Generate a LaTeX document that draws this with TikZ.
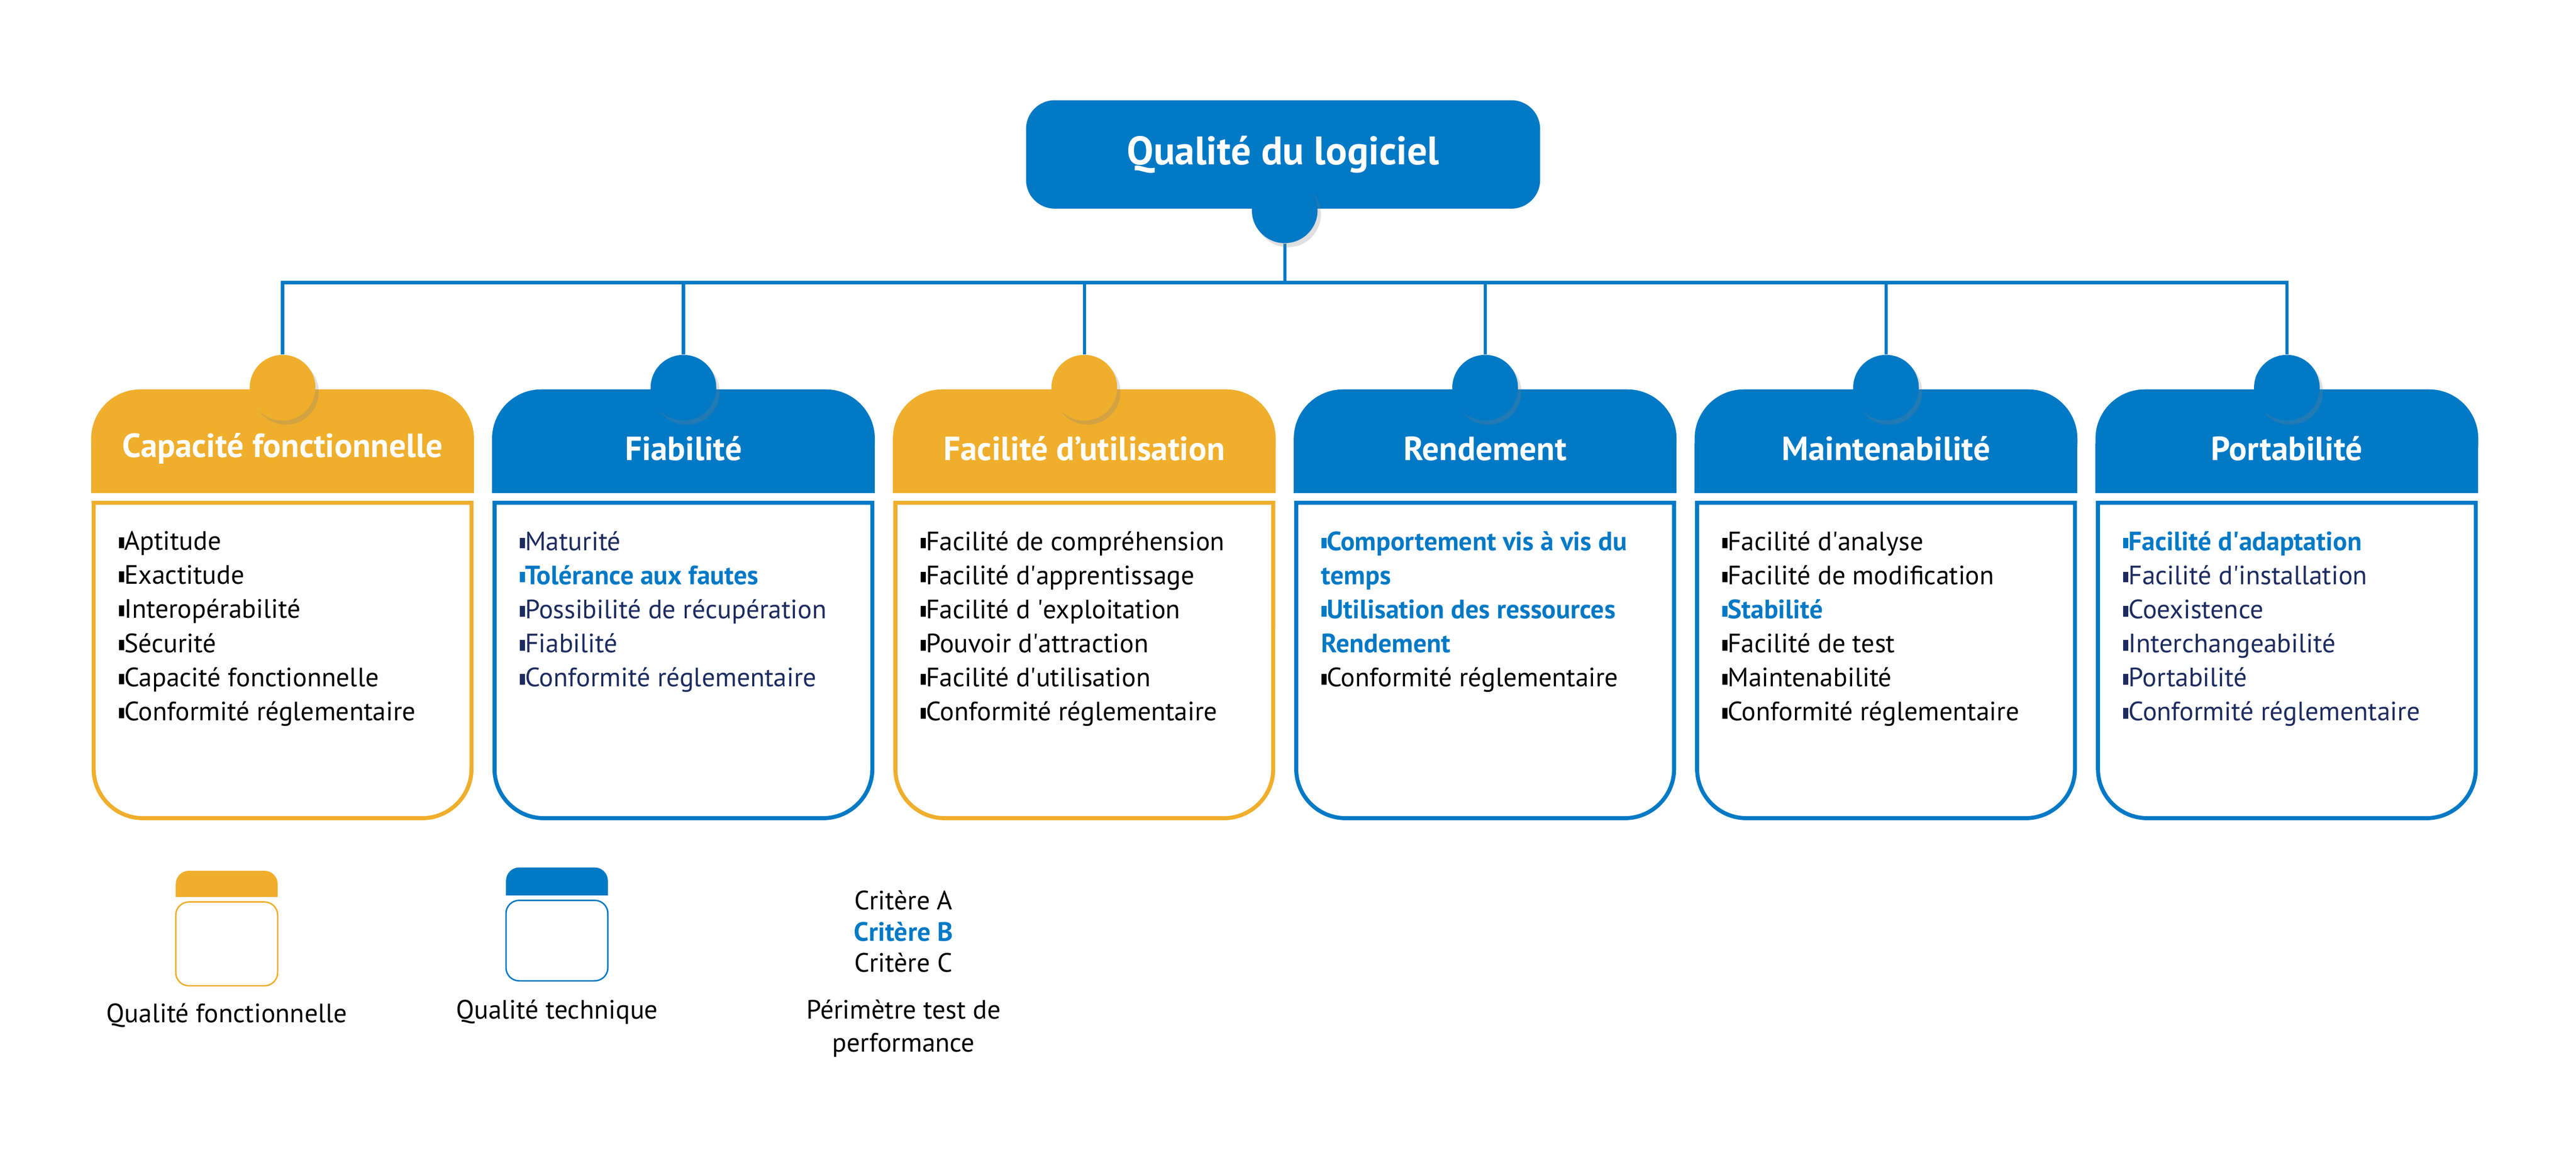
\documentclass[tikz,border=0pt]{standalone}
\usepackage{fontspec}
\setmainfont{PT Sans}
\usepackage{xcolor}
\usetikzlibrary{backgrounds,shadows}
\definecolor{qblue}{HTML}{0279C5}
\definecolor{qorange}{HTML}{EFAE2C}
\definecolor{qnavy}{HTML}{1D2B5E}
\newcommand\sq{\rule[0.15ex]{0.2em}{0.4em}}
\newcommand\ap{\textquotesingle}
\newcommand\hi[1]{{\bfseries\color{qblue}\sq#1}}
% one column: center x, colour, title, name, items
\newcommand\qcol[5]{%
  \node[dot, fill=#2] (dot#4) at (#1,474) {};
  \begin{scope}[on background layer]
    \fill[#2, rounded corners=0.6cm] (#1-116.5,410) rectangle (#1+116.5,473);
    \fill[#2] (#1-116.5,410) rectangle (#1+116.5,440);
  \end{scope}
  \node[headtext] (hd#4) at (#1,437) {#3};
  \draw[#2, line width=1.4pt] (#1-115,404) -- (#1-115,242)
    arc[start angle=180, end angle=270, radius=0.6cm] -- (#1+85,212)
    arc[start angle=270, end angle=360, radius=0.6cm] -- (#1+115,404) -- cycle;
  \node[items, anchor=north west] (it#4) at (#1-100,387) {#5};
}
\begin{document}
\begin{tikzpicture}[x=0.02cm, y=0.02cm,
  dot/.style={circle, minimum size=0.8cm, inner sep=0, drop shadow={opacity=0.25, shadow xshift=0.04cm, shadow yshift=-0.05cm}},
  headtext/.style={text=white, font=\bfseries\fontsize{11.6}{13}\selectfont},
  items/.style={align=left, inner sep=0, font=\fontsize{9.2}{11.8}\selectfont},
  link/.style={qblue, line width=1.1pt},
  legtext/.style={align=center, font=\fontsize{9.2}{11.5}\selectfont}]
\useasboundingbox (0,0) rectangle (1568,710);

% title
\node[fill=qblue, rounded corners=0.35cm, minimum width=6.26cm, minimum height=1.32cm,
  text=white, font=\bfseries\fontsize{13.8}{15}\selectfont] (top) at (781,616) {Qualité du logiciel};
\node[dot, fill=qblue] (dot0) at (782,582) {};
\coordinate (bus) at (782,538);

% columns
\qcol{172}{qorange}{Capacité fonctionnelle}{1}{\sq Aptitude\\ \sq Exactitude\\ \sq Interopérabilité\\ \sq Sécurité\\ \sq Capacité fonctionnelle\\ \sq Conformité réglementaire}
\qcol{416}{qblue}{Fiabilité}{2}{\color{qnavy}\sq Maturité\\ \hi{Tolérance aux fautes}\\ \color{qnavy}\sq Possibilité de récupération\\ \color{qnavy}\sq Fiabilité\\ \color{qnavy}\sq Conformité réglementaire}
\qcol{660}{qorange}{Facilité d’utilisation}{3}{\sq Facilité de compréhension\\ \sq Facilité d\ap apprentissage\\ \sq Facilité d \ap exploitation\\ \sq Pouvoir d\ap attraction\\ \sq Facilité d\ap utilisation\\ \sq Conformité réglementaire}
\qcol{904}{qblue}{Rendement}{4}{\hi{Comportement vis à vis du}\\ {\bfseries\color{qblue}temps}\\ \hi{Utilisation des ressources}\\ {\bfseries\color{qblue}Rendement}\\ \sq Conformité réglementaire}
\qcol{1148}{qblue}{Maintenabilité}{5}{\sq Facilité d\ap analyse\\ \sq Facilité de modification\\ \hi{Stabilité}\\ \sq Facilité de test\\ \sq Maintenabilité\\ \sq Conformité réglementaire}
\qcol{1392}{qblue}{Portabilité}{6}{\hi{Facilité d\ap adaptation}\\ \color{qnavy}\sq Facilité d\ap installation\\ \color{qnavy}\sq Coexistence\\ \color{qnavy}\sq Interchangeabilité\\ \color{qnavy}\sq Portabilité\\ \color{qnavy}\sq Conformité réglementaire}

% connectors
\begin{scope}[on background layer]
  \draw[link] (dot0.south) -- (bus);
  \foreach \n in {1,...,6}
    \draw[link] (dot\n.north) |- (bus);
\end{scope}

% legend
\fill[qorange, rounded corners=0.16cm] (107,164) rectangle (169,180);
\fill[qorange] (107,164) rectangle (169,172);
\draw[qorange, line width=0.5pt, rounded corners=0.16cm] (107,161) -- (107,110) -- (169,110) -- (169,161) -- cycle;
\node[legtext] (leg1) at (138,92) {Qualité fonctionnelle};
\fill[qblue, rounded corners=0.16cm] (308,165) rectangle (370,182);
\fill[qblue] (308,165) rectangle (370,174);
\draw[qblue, line width=0.5pt, rounded corners=0.16cm] (308,162) -- (308,113) -- (370,113) -- (370,162) -- cycle;
\node[legtext] (leg2) at (339,94) {Qualité technique};
\node[legtext] (critA) at (550,162) {Critère A};
\node[legtext, text=qblue, font=\bfseries\fontsize{9.2}{11.5}\selectfont] (critB) at (550,143) {Critère B};
\node[legtext] (critC) at (550,124) {Critère C};
\node[legtext] (leg3) at (550,84) {Périmètre test de\\ performance};
\end{tikzpicture}
\end{document}
